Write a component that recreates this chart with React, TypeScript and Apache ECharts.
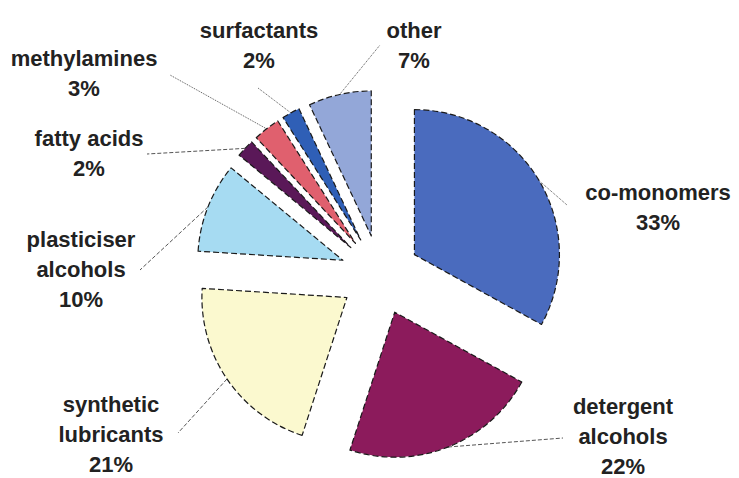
import React, { useEffect, useRef } from 'react';
import * as echarts from 'echarts';

const categories = [
  'co-monomers',
  'detergent\nalcohols',
  'synthetic\nlubricants',
  'plasticiser\nalcohols',
  'fatty acids',
  'methylamines',
  'surfactants',
  'other',
];
const shares = [33, 22, 21, 10, 2, 3, 2, 7];
const colors = ['#4a6bbe', '#8c1b5c', '#fbf9cf', '#a6dbf2', '#5a1858', '#e0606e', '#2f5fb6', '#93a7d8'];

// label placement (label centre x, y, leader end x, y, leader style)
const labelPlacement: [number, number, number, number, string][] = [
  [658, 207, 567, 205, 'dotted'],
  [623, 436, 563, 438, 'dashed'],
  [111, 434, 178, 433, 'dashed'],
  [81, 269, 140, 270, 'dashed'],
  [89, 153, 147, 154, 'dashed'],
  [84, 73, 170, 75, 'dotted'],
  [259, 45, 258, 88, 'dotted'],
  [414, 45, 380, 45, 'dotted'],
];

const CX = 380;
const CY = 275;
const R = 145;
const OFFSET = 40;

export default function App() {
  const ref = useRef<HTMLDivElement>(null);
  useEffect(() => {
    if (!ref.current) return;
    const chart = echarts.init(ref.current, null, { renderer: 'svg' });
    const total = shares.reduce((a, b) => a + b, 0);
    const mids: number[] = [];
    let cum = 0;
    shares.forEach((v) => {
      mids.push(((cum + v / 2) / total) * Math.PI * 2);
      cum += v;
    });

    // one pie per slice, each shifted outward along its own mid-angle (exploded pie)
    const series = categories.map((_, k) => {
      const a = mids[k];
      const cx = CX + OFFSET * Math.sin(a);
      const cy = CY - OFFSET * Math.cos(a);
      return {
        type: 'pie',
        silent: true,
        center: [cx, cy],
        radius: [0, R],
        startAngle: 90,
        clockwise: true,
        avoidLabelOverlap: false,
        emphasis: { disabled: true },
        label: {
          show: true,
          formatter: '{b}\n{c}%',
          fontFamily: 'Liberation Sans, Arial, sans-serif',
          fontSize: 22,
          fontWeight: 'bold',
          color: '#222',
          lineHeight: 30,
          align: 'center',
        },
        labelLine: {
          show: true,
          lineStyle: { color: '#555', width: 1, type: labelPlacement[k][4] },
        },
        labelLayout: (params: any) => {
          if (params.dataIndex !== k) return {};
          const p = labelPlacement[k];
          const sx = cx + R * Math.sin(a);
          const sy = cy - R * Math.cos(a);
          return {
            x: p[0],
            y: p[1],
            align: 'center',
            verticalAlign: 'middle',
            labelLinePoints: [
              [sx, sy],
              [(sx + p[2]) / 2, (sy + p[3]) / 2],
              [p[2], p[3]],
            ],
          };
        },
        data: categories.map((name, i) =>
          i === k
            ? {
                name,
                value: shares[i],
                itemStyle: {
                  color: colors[i],
                  borderColor: '#1a1a1a',
                  borderWidth: 1.2,
                  borderType: [6, 3],
                },
              }
            : {
                name,
                value: shares[i],
                itemStyle: { color: 'rgba(0,0,0,0)', borderWidth: 0 },
                label: { show: false },
                labelLine: { show: false },
              }
        ),
      };
    });

    chart.setOption({
      animation: false,
      backgroundColor: '#ffffff',
      series,
    });
    return () => chart.dispose();
  }, []);
  return (
    <div
      ref={ref}
      style={{ position: 'absolute', left: 0, top: 0, width: 739, height: 478 }}
    />
  );
}
